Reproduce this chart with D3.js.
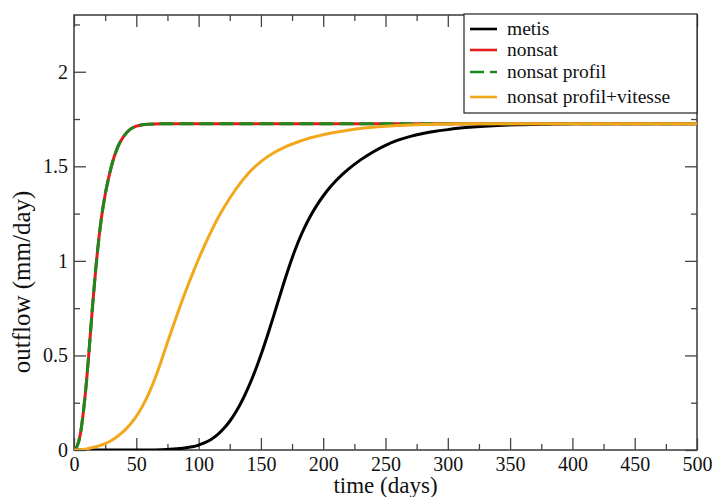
<!DOCTYPE html>
<html>
<head>
<meta charset="utf-8">
<script src="https://cdn.jsdelivr.net/npm/d3@7/dist/d3.min.js"></script>
<style>
  html, body { margin: 0; padding: 0; background: #fff; }
  svg { display: block; }
  text { font-family: "Liberation Serif", "Times New Roman", "DejaVu Serif", serif; fill: #111; }
</style>
</head>
<body>
<svg id="chart" width="714" height="497"></svg>
<script>
// ---- data ----
const metisTime = [0, 60, 70, 75, 80, 85, 90, 95, 100, 105, 110, 115, 120, 125, 130, 135, 140, 145, 150, 155, 160,
  165, 170, 175, 180, 185, 190, 195, 200, 205, 210, 215, 220, 230, 240, 250, 260, 270, 280, 290, 300, 310, 320,
  340, 360, 380, 400, 450, 500];
const metisValues = [0, 0, 0.001, 0.003, 0.005, 0.008, 0.012, 0.017, 0.026, 0.039, 0.056, 0.08, 0.112, 0.152, 0.202,
  0.262, 0.332, 0.412, 0.502, 0.6, 0.704, 0.811, 0.916, 1.014, 1.101, 1.176, 1.24, 1.295, 1.343, 1.385, 1.422, 1.455,
  1.484, 1.534, 1.576, 1.611, 1.638, 1.658, 1.673, 1.685, 1.694, 1.702, 1.708, 1.716, 1.72, 1.723, 1.725, 1.725, 1.725];

const nonsatTime = [0, 2.5, 5, 7.5, 10, 12.5, 15, 17.5, 20, 22.5, 25, 27.5, 30, 35, 40, 45, 50, 55, 60, 70, 100, 200, 300, 400, 500];
const nonsatValues = [0, 0.02, 0.08, 0.2, 0.36, 0.56, 0.77, 0.96, 1.12, 1.25, 1.35, 1.43, 1.5, 1.6, 1.66, 1.695, 1.712,
  1.72, 1.723, 1.725, 1.725, 1.725, 1.725, 1.725, 1.725];

const nonsatProfilTime = [0, 2.5, 5, 7.5, 10, 12.5, 15, 17.5, 20, 22.5, 25, 27.5, 30, 35, 40, 45, 50, 55, 60, 70, 100, 200, 300, 400, 500];
const nonsatProfilValues = [0, 0.02, 0.08, 0.2, 0.36, 0.56, 0.77, 0.96, 1.12, 1.25, 1.35, 1.43, 1.5, 1.6, 1.66, 1.695, 1.712,
  1.72, 1.723, 1.725, 1.725, 1.725, 1.725, 1.725, 1.725];

const vitesseTime = [0, 5, 10, 15, 20, 25, 30, 35, 40, 45, 50, 55, 60, 65, 70, 75, 80, 85, 90, 95, 100, 105, 110, 115, 120,
  130, 140, 150, 160, 170, 180, 190, 200, 210, 220, 230, 240, 250, 260, 270, 280, 300, 320, 400, 500];
const vitesseValues = [0, 0.002, 0.006, 0.013, 0.022, 0.034, 0.05, 0.073, 0.1, 0.135, 0.178, 0.232, 0.298, 0.378, 0.47,
  0.568, 0.664, 0.757, 0.846, 0.93, 1.01, 1.085, 1.155, 1.22, 1.278, 1.38, 1.463, 1.525, 1.57, 1.604, 1.63, 1.651,
  1.667, 1.68, 1.691, 1.7, 1.707, 1.712, 1.716, 1.719, 1.721, 1.724, 1.725, 1.725, 1.725];

const xMajorTicks = [0, 50, 100, 150, 200, 250, 300, 350, 400, 450, 500];
const xMinorTicks = [25, 75, 125, 175, 225, 275, 325, 375, 425, 475];
const yMajorTicks = [0, 0.5, 1, 1.5, 2];
const yMinorTicks = [0.25, 0.75, 1.25, 1.75, 2.25];

const legendLabels = ["metis", "nonsat", "nonsat profil", "nonsat profil+vitesse"];

// ---- layout ----
const L = 74, R = 697, T = 15, B = 450;
const svg = d3.select("#chart");

const x = d3.scaleLinear().domain([0, 500]).range([L, R]);
const y = d3.scaleLinear().domain([0, 2.3]).range([B, T]);

const axisColor = "#444";

function styleAxis(g) {
  g.select(".domain").remove();
  g.selectAll(".tick line").attr("stroke", axisColor).attr("stroke-width", 1.3);
  g.selectAll(".tick text").attr("font-size", 20).attr("fill", "#111");
}

// bottom
svg.append("g").attr("transform", `translate(0,${B})`)
  .call(d3.axisBottom(x).tickValues(xMajorTicks).tickSize(-12).tickPadding(7).tickFormat(d3.format("d")))
  .call(styleAxis);
svg.append("g").attr("transform", `translate(0,${B})`)
  .call(d3.axisBottom(x).tickValues(xMinorTicks).tickSize(-6).tickFormat(""))
  .call(styleAxis);
// top
svg.append("g").attr("transform", `translate(0,${T})`)
  .call(d3.axisTop(x).tickValues(xMajorTicks).tickSize(-12).tickFormat(""))
  .call(styleAxis);
svg.append("g").attr("transform", `translate(0,${T})`)
  .call(d3.axisTop(x).tickValues(xMinorTicks).tickSize(-6).tickFormat(""))
  .call(styleAxis);
// left
svg.append("g").attr("transform", `translate(${L},0)`)
  .call(d3.axisLeft(y).tickValues(yMajorTicks).tickSize(-12).tickPadding(6).tickFormat(d3.format("")))
  .call(styleAxis);
svg.append("g").attr("transform", `translate(${L},0)`)
  .call(d3.axisLeft(y).tickValues(yMinorTicks).tickSize(-6).tickFormat(""))
  .call(styleAxis);
// right
svg.append("g").attr("transform", `translate(${R},0)`)
  .call(d3.axisRight(y).tickValues(yMajorTicks).tickSize(-12).tickFormat(""))
  .call(styleAxis);
svg.append("g").attr("transform", `translate(${R},0)`)
  .call(d3.axisRight(y).tickValues(yMinorTicks).tickSize(-6).tickFormat(""))
  .call(styleAxis);

// frame
svg.append("rect").attr("x", L).attr("y", T).attr("width", R - L).attr("height", B - T)
  .attr("fill", "none").attr("stroke", axisColor).attr("stroke-width", 1.6);

// clip
svg.append("clipPath").attr("id", "plotclip").append("rect")
  .attr("x", L).attr("y", T).attr("width", R - L).attr("height", B - T);

const series = [
  { t: metisTime, v: metisValues, color: "#000000", dash: null },
  { t: nonsatTime, v: nonsatValues, color: "#e21d1d", dash: null },
  { t: nonsatProfilTime, v: nonsatProfilValues, color: "#198a1c", dash: "14,6" },
  { t: vitesseTime, v: vitesseValues, color: "#f2a81c", dash: null }
];

const plot = svg.append("g").attr("clip-path", "url(#plotclip)");
series.forEach(s => {
  const pts = s.t.map((t, i) => [t, s.v[i]]);
  const line = d3.line().x(d => x(d[0])).y(d => y(d[1])).curve(d3.curveMonotoneX);
  plot.append("path").datum(pts)
    .attr("d", line)
    .attr("fill", "none")
    .attr("stroke", s.color)
    .attr("stroke-width", 3)
    .attr("stroke-dasharray", s.dash)
    .attr("stroke-linejoin", "round");
});

// legend
const lg = svg.append("g");
lg.append("rect").attr("x", 464).attr("y", 14).attr("width", R - 464).attr("height", 99)
  .attr("fill", "#fff").attr("stroke", "#222").attr("stroke-width", 1.2);
const rowY = [29, 50, 72, 97];
series.forEach((s, i) => {
  lg.append("line").attr("x1", 470).attr("x2", 497).attr("y1", rowY[i]).attr("y2", rowY[i])
    .attr("stroke", s.color).attr("stroke-width", 2.6).attr("stroke-dasharray", s.dash);
  lg.append("text").attr("x", 507).attr("y", rowY[i] + 6).attr("font-size", 19.5).text(legendLabels[i]);
});

// axis titles
svg.append("text").attr("x", (L + R) / 2).attr("y", 493).attr("text-anchor", "middle")
  .attr("font-size", 23).text("time (days)");
svg.append("text").attr("transform", `translate(30,${282}) rotate(-90)`).attr("text-anchor", "middle")
  .attr("font-size", 25).text("outflow (mm/day)");
</script>
</body>
</html>
